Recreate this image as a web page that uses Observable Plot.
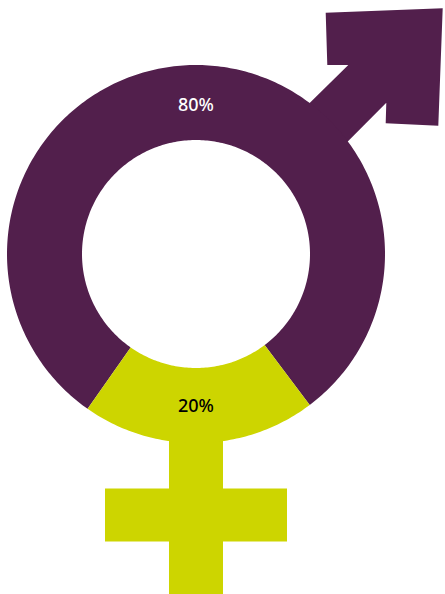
<!DOCTYPE html>
<html>
<head>
<meta charset="utf-8">
<script src="https://cdn.jsdelivr.net/npm/d3@7"></script>
<script src="https://cdn.jsdelivr.net/npm/@observablehq/plot@0.6"></script>
<style>
  html, body { margin: 0; padding: 0; background: #fff; }
  svg { display: block; }
</style>
</head>
<body>
<div id="chart"></div>
<script>
// Gender split, drawn as a ring that doubles as the male and female symbols.
const genders = ["Male", "Female"];
const shares = [80, 20];
const shareLabels = ["80%", "20%"];
const shareColors = ["#521f4c", "#cdd500"];
const labelColors = ["#ffffff", "#000000"];
const labelY = [105, 406];

// Ring geometry and the two symbol outlines, in chart units.
const ringCenter = [195.5, 253.5];
const ringOuter = 189;
const ringInner = 114;
const femaleCenterAngle = 1; // degrees off straight down

const arrowX = [325.2, 442.2, 437.8, 385.2, 385.8, 337.8, 299.5, 347.8, 326.8];
const arrowY = [12.2, 7.8, 125.2, 122.8, 102.2, 150.6, 112, 64.5, 64.5];
const crossX1 = [169, 105];
const crossX2 = [223, 287];
const crossY1 = [430, 488.5];
const crossY2 = [594, 541.5];

// Outline of one slice, sampled along both of its arcs.
function sliceOutline(start, end, gender) {
  const n = Math.max(2, Math.ceil((end - start) * 60));
  const angles = d3.range(n + 1).map((i) => start + ((end - start) * i) / n);
  const at = (r) => (a) => ({
    gender,
    x: ringCenter[0] + r * Math.sin(a),
    y: ringCenter[1] - r * Math.cos(a)
  });
  return [...angles.map(at(ringOuter)), ...angles.slice().reverse().map(at(ringInner))];
}

// The male share starts where the female one ends, running clockwise.
const femaleSpan = (shares[1] / d3.sum(shares)) * 2 * Math.PI;
const femaleMid = Math.PI - (femaleCenterAngle * Math.PI) / 180;
const ringStart = femaleMid + femaleSpan / 2;
const arcs = d3.pie().sort(null).startAngle(ringStart).endAngle(ringStart + 2 * Math.PI)(shares);
const slices = arcs.flatMap((arc, i) => sliceOutline(arc.startAngle, arc.endAngle, genders[i]));

const arrow = arrowX.map((x, i) => ({ x, y: arrowY[i] }));
const cross = crossX1.map((x1, i) => ({ x1, x2: crossX2[i], y1: crossY1[i], y2: crossY2[i] }));
const labels = genders.map((gender, i) => ({
  gender,
  label: shareLabels[i],
  x: ringCenter[0],
  y: labelY[i],
  color: labelColors[i]
}));

const chart = Plot.plot({
  width: 445,
  height: 594,
  margin: 0,
  axis: null,
  x: { domain: [0, 445], range: [0, 445] },
  y: { domain: [0, 594], range: [0, 594] },
  color: { domain: genders, range: shareColors },
  marks: [
    Plot.line(arrow, { x: "x", y: "y", curve: "linear-closed", fill: shareColors[0], stroke: "none" }),
    Plot.rect(cross, { x1: "x1", x2: "x2", y1: "y1", y2: "y2", fill: shareColors[1] }),
    Plot.line(slices, { x: "x", y: "y", z: "gender", fill: "gender", stroke: "none", curve: "linear-closed" }),
    Plot.text(labels, {
      x: "x",
      y: "y",
      text: "label",
      fill: "color",
      fontSize: 18,
      fontFamily: "Noto Sans",
      fontWeight: 500
    })
  ]
});

document.getElementById("chart").append(chart);
</script>
</body>
</html>
